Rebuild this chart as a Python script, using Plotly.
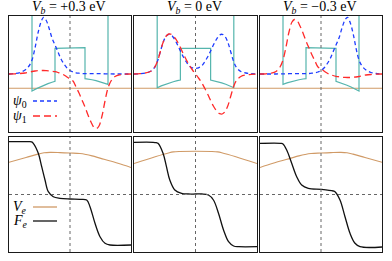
import plotly.graph_objects as go

# ---------------- data (x in nm, energies in meV) ----------------
TITLES = ["+0.3", "0", "\u22120.3"]

# Potential profiles (top row)
POT_X = [-19, -19, -17, -15, -13, -11, -9, -7.5, -7.5, 7.5, 7.5, 9, 11, 13, 15, 17, 19, 19]
POT_P = [600, -13.7, -3, 6.8, 15.5, 23.3, 30.5, 35, 200, 203, 48, 46.5, 42.7, 38.5, 33.2, 27, 19.7, 600]
POT_0 = [600, 3, 12, 20, 27, 33, 38.5, 41.5, 200, 200, 41.5, 38.5, 33, 27, 20, 12, 3, 600]
POT_M = [600, 19.7, 27, 33.2, 38.5, 42.7, 46.5, 48, 203, 200, 35, 30.5, 23.3, 15.5, 6.8, -3, -13.7, 600]

EF_X = [-30.5, 30.5]
EF_Y = [0, 0]

# wavefunctions: level + amplitude
E_LEVEL = 71.5
PSI_SCALE = 5.0
PSI_X = [-30.5, -27.5, -25, -22.5, -20.5, -19, -17.5, -16, -14.5, -13.25, -12, -10.5, -9, -7.5,
         -6, -4.5, -3, -1.5, 0, 1.5, 3, 4.5, 6, 7.5, 9, 10.5, 12, 13.25, 14.5, 16, 17.5, 19,
         20.5, 22.5, 25, 27.5, 30.5]
PSI0_P = [0, 0.5, 1.5, 4, 8, 14, 26, 41, 52, 56.7, 54, 46, 36, 29,
          22, 15, 10, 6, 3.5, 2, 1.2, 0.8, 0.5, 0.4, 0.3, 0.3, 0.3, 0.3, 0.3, 0.3, 0.2, 0.2,
          0.1, 0, 0, 0, 0]
PSI1_P = [0, 0.2, 0.5, 1, 1.8, 2.5, 3, 3.3, 3.5, 3.5, 3.4, 3.2, 2.8, 2.3,
          1.5, 0.5, -1, -3, -5, -7, -13, -19, -26, -33, -41, -48, -53.5, -54.5, -52, -42, -27, -14,
          -7, -2.5, -0.8, -0.2, 0]
PSI0_0 = [0, 0.3, 1, 2.5, 6, 12, 22, 32, 38, 39.7, 39, 35, 29.5, 23,
          17, 12, 8, 6.2, 5.7, 6.2, 8, 12, 17, 23, 29.5, 35, 39, 39.7, 38, 32, 22, 12,
          6, 2.5, 1, 0.3, 0]
PSI1_0 = [0, 0.3, 1, 2.5, 6, 12, 22, 32, 38, 40, 39.7, 37, 32.5, 26.5,
          20, 14, 8.5, 4, 0, -4, -8.5, -14, -20, -26.5, -32.5, -37, -39.7, -40, -38, -32, -22, -12,
          -6, -2.5, -1, -0.3, 0]
PSI0_M = [0, 0, 0, 0, 0.1, 0.2, 0.2, 0.3, 0.3, 0.3, 0.3, 0.3, 0.3, 0.4,
          0.5, 0.8, 1.2, 2, 3.5, 6, 10, 15, 22, 29, 36, 46, 54, 56.7, 52, 41, 26, 14,
          8, 4, 1.5, 0.5, 0]
PSI1_M = [0, 0.2, 0.8, 2.5, 7, 14, 27, 42, 52, 54.5, 53.5, 48, 41, 33,
          26, 19, 13, 7, 5, 3, 1, -0.5, -1.5, -2.3, -2.8, -3.2, -3.4, -3.5, -3.5, -3.3, -3, -2.5,
          -1.8, -1, -0.5, -0.2, 0]

# bottom row: electrostatic potential Ve and Fermi level Fe
VE_X_P = [-30.5, -22, -16, -13, -10, -5, 0, 5, 8, 11, 17, 24, 30.5]
VE_P = [161.5, 185, 202, 208.5, 210.5, 209.5, 207.5, 205, 200, 193, 176, 156, 135]
VE_X_0 = [-30.5, -20, -13, -11, -8, 0, 8, 11, 13, 20, 30.5]
VE_0 = [155, 189, 209, 213, 215, 216, 215, 213, 209, 189, 155]
VE_X_M = [-30.5, -24, -17, -11, -8, -5, 0, 5, 10, 13, 16, 22, 30.5]
VE_M = [135, 156, 176, 193, 200, 205, 207.5, 209.5, 210.5, 208.5, 202, 185, 161.5]

FE_X_P = [-30.5, -21, -19.2, -18.35, -15.85, -14.15, -12.5, -10.85, -8.35, -5, 0, 5, 8.35,
          10, 12.5, 15, 17.5, 20, 30.5]
FE_P = [264, 264, 263, 256, 206, 139, 72.5, 14, -11, -19, -22.5, -24, -27.5,
        -61, -144, -211, -244, -252.5, -252.5]
FE_X_0 = [-30.5, -21, -19.4, -18.6, -16.1, -14.4, -12.75, -10.25, -6.9, -3.6, 0, 3.1, 6.4,
          8.9, 11.4, 13.9, 16.4, 18.9, 21.4, 30.5]
FE_0 = [261, 261, 259, 256, 206, 139, 72.5, 22.5, 6, 2.5, 2.5, 2.5, -2.5,
        -27.5, -94, -177.5, -236, -257.5, -261, -261]
FE_X_M = [-30.5, -20, -19, -17.15, -14.65, -12.15, -9.65, -6.35, 0.35, 6.15, 7, 9.5, 12,
          14.5, 17, 19.5, 30.5]
FE_M = [256, 256, 253, 222.5, 156, 89, 47.5, 31, 26, 17.5, 14, -27.5, -111,
        -194, -244, -261, -262.5]

POTS = [POT_P, POT_0, POT_M]
PSI0S = [PSI0_P, PSI0_0, PSI0_M]
PSI1S = [PSI1_P, PSI1_0, PSI1_M]
VES = [(VE_X_P, VE_P), (VE_X_0, VE_0), (VE_X_M, VE_M)]
FES = [(FE_X_P, FE_P), (FE_X_0, FE_0), (FE_X_M, FE_M)]

# ---------------- styling ----------------
W, H = 392, 261
FONT = "Liberation Serif"
TEAL = "#55B5AD"
ORANGE = "#D09A66"
BLUE = "#1E3CFF"
RED = "#FF2A2A"
BLACK = "#111111"

XD = [(9 / W, 131 / W), (134 / W, 257 / W), (260 / W, 382 / W)]
YD_TOP = (1 - 132 / H, 1 - 16 / H)
YD_BOT = (1 - 252 / H, 1 - 137 / H)
XR = [-30.5, 30.5]
YR_TOP = [-218.5, 361.5]
YR_BOT = [-287.5, 287.5]

fig = go.Figure()


def ax_names(i):
    s = "" if i == 1 else str(i)
    return "x" + s, "y" + s


for c in range(3):
    # top row
    xa, ya = ax_names(c + 1)
    fig.add_trace(go.Scatter(x=EF_X, y=EF_Y, mode="lines", xaxis=xa, yaxis=ya,
                             line=dict(color=ORANGE, width=1.1), showlegend=False))
    fig.add_trace(go.Scatter(x=POT_X, y=POTS[c], mode="lines", xaxis=xa, yaxis=ya,
                             line=dict(color=TEAL, width=1.2), showlegend=False))
    fig.add_trace(go.Scatter(x=PSI_X, y=[E_LEVEL + PSI_SCALE * v for v in PSI0S[c]],
                             mode="lines", xaxis=xa, yaxis=ya, line_shape="spline",
                             line=dict(color=BLUE, width=1.3, dash="4px,3px"), showlegend=False))
    fig.add_trace(go.Scatter(x=PSI_X, y=[E_LEVEL + PSI_SCALE * v for v in PSI1S[c]],
                             mode="lines", xaxis=xa, yaxis=ya, line_shape="spline",
                             line=dict(color=RED, width=1.3, dash="7px,4px"), showlegend=False))
    # bottom row
    xb, yb = ax_names(c + 4)
    vx, vy = VES[c]
    fx, fy = FES[c]
    fig.add_trace(go.Scatter(x=vx, y=vy, mode="lines", xaxis=xb, yaxis=yb, line_shape="spline",
                             line=dict(color=ORANGE, width=1.1), showlegend=False))
    fig.add_trace(go.Scatter(x=fx, y=fy, mode="lines", xaxis=xb, yaxis=yb, line_shape="spline",
                             line=dict(color=BLACK, width=1.3), showlegend=False))

axis_common = dict(showticklabels=False, ticks="", showgrid=False, zeroline=False,
                   showline=True, mirror=True, linecolor="#1a1a1a", linewidth=1.2)
layout = {}
shapes = []
annotations = []
for i in range(1, 7):
    c = (i - 1) % 3
    top = i <= 3
    s = "" if i == 1 else str(i)
    layout["xaxis" + s] = dict(domain=list(XD[c]), range=XR, anchor="y" + s, **axis_common)
    layout["yaxis" + s] = dict(domain=list(YD_TOP if top else YD_BOT),
                               range=YR_TOP if top else YR_BOT, anchor="x" + s, **axis_common)
    xs, ys = ax_names(i)
    shapes.append(dict(type="line", xref=xs, yref=ys + " domain", x0=0, x1=0, y0=0, y1=1,
                       line=dict(color="#666666", width=1, dash="dot")))
    if not top:
        shapes.append(dict(type="line", xref=xs + " domain", yref=ys, x0=0, x1=1, y0=0, y1=0,
                           line=dict(color="#666666", width=1, dash="dot")))

for c in range(3):
    annotations.append(dict(text="<i>V</i><sub><i>b</i></sub> = " + TITLES[c] + " eV",
                            xref="paper", yref="paper", x=(XD[c][0] + XD[c][1]) / 2 - 1 / W,
                            y=1 - 7 / H, xanchor="center", yanchor="middle", showarrow=False,
                            font=dict(family=FONT, size=14, color="black")))

# legends (drawn as key text + sample line)
legend_items = [
    ("x domain", "y domain", "<i>\u03c8</i><sub>0</sub>", 1 - (101 - 16) / 116, BLUE, "4px,3px"),
    ("x domain", "y domain", "<i>\u03c8</i><sub>1</sub>", 1 - (116 - 16) / 116, RED, "7px,4px"),
    ("x4 domain", "y4 domain", "<i>V</i><sub><i>e</i></sub>", 1 - (207 - 137) / 115, ORANGE, "solid"),
    ("x4 domain", "y4 domain", "<i>F</i><sub><i>e</i></sub>", 1 - (221 - 137) / 115, BLACK, "solid"),
]
for xr, yr, txt, yy, col, dash in legend_items:
    annotations.append(dict(text=txt, xref=xr, yref=yr, x=0.02, y=yy, xanchor="left",
                            yanchor="middle", showarrow=False,
                            font=dict(family=FONT, size=14, color="black")))
    shapes.append(dict(type="line", xref=xr, yref=yr, x0=24 / 122, x1=48 / 122, y0=yy, y1=yy,
                       line=dict(color=col, width=1.3, dash=dash)))

fig.update_layout(width=W, height=H, margin=dict(l=0, r=0, t=0, b=0),
                  paper_bgcolor="white", plot_bgcolor="white", shapes=shapes,
                  annotations=annotations, font=dict(family=FONT), hovermode=False,
                  **layout)

fig.write_html("out.html", config={"displayModeBar": False, "staticPlot": True},
               post_script="document.body.style.margin='0';document.body.style.padding='0';")
